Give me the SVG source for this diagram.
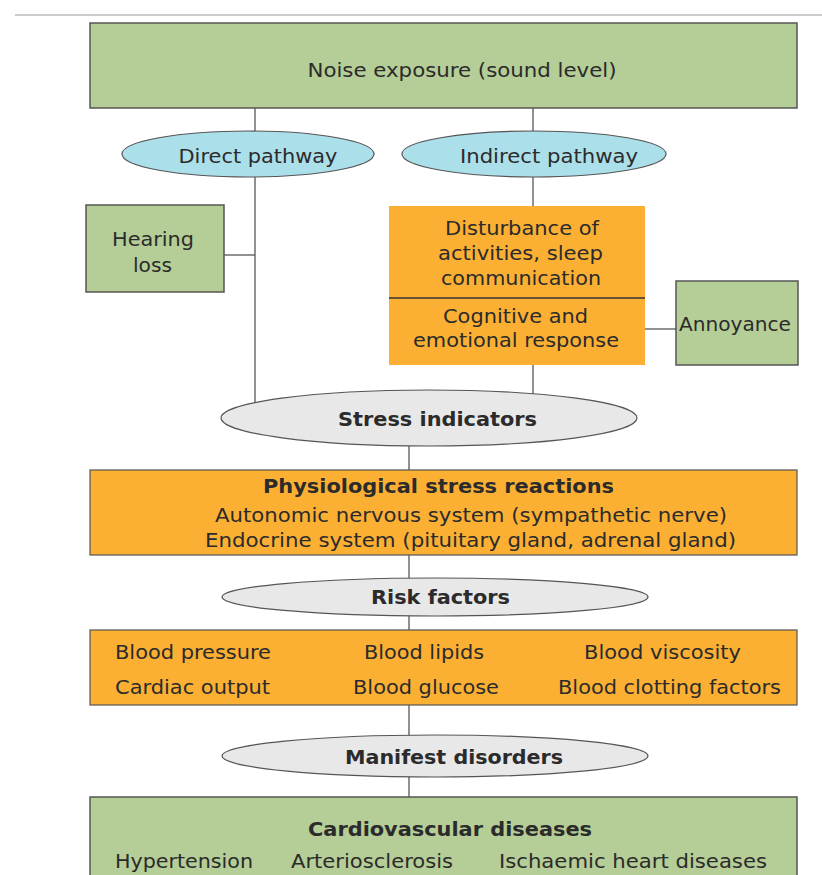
<svg xmlns="http://www.w3.org/2000/svg" width="822" height="875" viewBox="0 0 822 875">
<style>
.g{fill:#b5cd96;stroke:#555;stroke-width:1.5}
.o{fill:#fbb034;stroke:#555;stroke-width:1.2}
.c{fill:#abdfea;stroke:#555;stroke-width:1.2}
.e{fill:#e8e8e8;stroke:#555;stroke-width:1.2}
.ln{stroke:#555;stroke-width:1.3;fill:none}
text{fill:#2b2b2b;font-size:20px;font-family:"DejaVu Sans",Verdana,sans-serif}
.n{font-family:"DejaVu Sans Condensed","DejaVu Sans",sans-serif}
.b{font-weight:bold}
.m{text-anchor:middle}
</style>
<rect x="0" y="0" width="822" height="875" fill="#ffffff"/>
<line x1="15" y1="15" x2="822" y2="15" stroke="#cccccc" stroke-width="2"/>
<g id="connectors" class="ln">
<line x1="255" y1="108" x2="255" y2="418"/>
<line x1="533" y1="108" x2="533" y2="206"/>
<line x1="224" y1="255" x2="255" y2="255"/>
<line x1="533" y1="365" x2="533" y2="418"/>
<line x1="645" y1="329" x2="676" y2="329"/>
<line x1="409" y1="418" x2="409" y2="470"/>
<line x1="409" y1="555" x2="409" y2="597"/>
<line x1="409" y1="597" x2="409" y2="630"/>
<line x1="409" y1="705" x2="409" y2="756"/>
<line x1="409" y1="756" x2="409" y2="797"/>
</g>
<g id="noise">
<rect class="g" x="90" y="23" width="707" height="85"/>
<text class="n m" x="462" y="77" textLength="309" lengthAdjust="spacingAndGlyphs">Noise exposure (sound level)</text>
</g>
<g id="direct">
<ellipse class="c" cx="248" cy="154" rx="126" ry="23"/>
<text class="m" x="258" y="163" textLength="159" lengthAdjust="spacingAndGlyphs">Direct pathway</text>
</g>
<g id="indirect">
<ellipse class="c" cx="534" cy="154" rx="132" ry="23"/>
<text class="m" x="549" y="163" textLength="178" lengthAdjust="spacingAndGlyphs">Indirect pathway</text>
</g>
<g id="hearing">
<rect class="g" x="86" y="205" width="138" height="87"/>
<text class="m" x="153" y="246" textLength="82" lengthAdjust="spacingAndGlyphs">Hearing</text>
<text class="m" x="152.5" y="272" textLength="39" lengthAdjust="spacingAndGlyphs">loss</text>
</g>
<g id="disturbance">
<rect x="389" y="206" width="256" height="159" fill="#fbb034"/>
<line x1="389" y1="298" x2="645" y2="298" stroke="#333" stroke-width="1.3"/>
<text class="m" x="522" y="235" textLength="154" lengthAdjust="spacingAndGlyphs">Disturbance of</text>
<text class="m" x="520.5" y="260" textLength="165" lengthAdjust="spacingAndGlyphs">activities, sleep</text>
<text class="m" x="521" y="285" textLength="160" lengthAdjust="spacingAndGlyphs">communication</text>
<text class="m" x="515.5" y="323" textLength="145" lengthAdjust="spacingAndGlyphs">Cognitive and</text>
<text class="m" x="516" y="347" textLength="206" lengthAdjust="spacingAndGlyphs">emotional response</text>
</g>
<g id="annoyance">
<rect class="g" x="676" y="281" width="122" height="84"/>
<text class="m" x="735" y="331" textLength="112" lengthAdjust="spacingAndGlyphs">Annoyance</text>
</g>
<g id="stress">
<ellipse class="e" cx="429" cy="418" rx="208" ry="28"/>
<text class="b m" x="437.5" y="426" textLength="199" lengthAdjust="spacingAndGlyphs">Stress indicators</text>
</g>
<g id="physio">
<rect class="o" x="90" y="470" width="707" height="85"/>
<text class="b m" x="438.5" y="493" textLength="351" lengthAdjust="spacingAndGlyphs">Physiological stress reactions</text>
<text class="m" x="471" y="522" textLength="512" lengthAdjust="spacingAndGlyphs">Autonomic nervous system (sympathetic nerve)</text>
<text class="m" x="470.5" y="547" textLength="531" lengthAdjust="spacingAndGlyphs">Endocrine system (pituitary gland, adrenal gland)</text>
</g>
<g id="risk">
<ellipse class="e" cx="435" cy="597" rx="213" ry="19"/>
<text class="n b m" x="440.5" y="604" textLength="139" lengthAdjust="spacingAndGlyphs">Risk factors</text>
</g>
<g id="riskbox">
<rect class="o" x="90" y="630" width="707" height="75"/>
<text class="n" x="115" y="659" textLength="156" lengthAdjust="spacingAndGlyphs">Blood pressure</text>
<text class="n" x="364" y="659" textLength="120" lengthAdjust="spacingAndGlyphs">Blood lipids</text>
<text class="n" x="584" y="659" textLength="157" lengthAdjust="spacingAndGlyphs">Blood viscosity</text>
<text class="n" x="115" y="694" textLength="155" lengthAdjust="spacingAndGlyphs">Cardiac output</text>
<text class="n" x="353" y="694" textLength="146" lengthAdjust="spacingAndGlyphs">Blood glucose</text>
<text class="n" x="558" y="694" textLength="223" lengthAdjust="spacingAndGlyphs">Blood clotting factors</text>
</g>
<g id="manifest">
<ellipse class="e" cx="435" cy="756" rx="213" ry="21"/>
<text class="n b m" x="454" y="764" textLength="218" lengthAdjust="spacingAndGlyphs">Manifest disorders</text>
</g>
<g id="cardio">
<rect class="g" x="90" y="797" width="707" height="90"/>
<text class="n b m" x="450" y="836" textLength="284" lengthAdjust="spacingAndGlyphs">Cardiovascular diseases</text>
<text class="n" x="115" y="868" textLength="138" lengthAdjust="spacingAndGlyphs">Hypertension</text>
<text class="n" x="291" y="868" textLength="162" lengthAdjust="spacingAndGlyphs">Arteriosclerosis</text>
<text class="n" x="499" y="868" textLength="268" lengthAdjust="spacingAndGlyphs">Ischaemic heart diseases</text>
</g>
</svg>
